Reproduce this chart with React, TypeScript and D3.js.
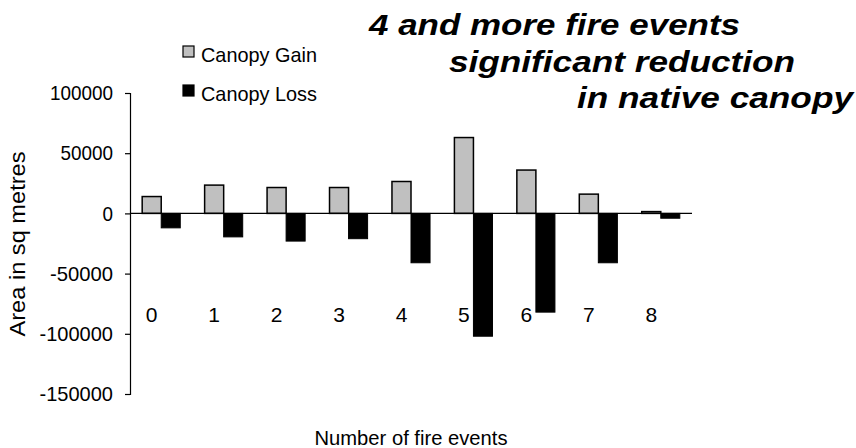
import React, { useEffect, useRef } from 'react';
import * as d3 from 'd3';

// data
const categories = ['0', '1', '2', '3', '4', '5', '6', '7', '8'];
const canopyGain = [14000, 23500, 21500, 21500, 26500, 63000, 36000, 16000, 1500];
const canopyLoss = [-12000, -19500, -23000, -21000, -41000, -102000, -82000, -41000, -4000];
const yTicks = [100000, 50000, 0, -50000, -100000, -150000];
const seriesNames = ['Canopy Gain', 'Canopy Loss'];
const titleLines = ['4 and more fire events', 'significant reduction', 'in native canopy'];

const W = 856;
const H = 448;
const FONT = "'Liberation Sans', Arial, Helvetica, sans-serif";

const App: React.FC = () => {
  const svgRef = useRef<SVGSVGElement>(null);

  useEffect(() => {
    const svg = d3.select(svgRef.current);
    svg.selectAll('*').remove(); // limpa

    const left = 130, right = 692, top = 93, bottom = 394;

    const y = d3.scaleLinear().domain([-150000, 100000]).range([bottom, top]);
    const x0 = d3.scaleBand().domain(categories).range([left, right]).padding(0);
    const x1 = d3.scaleBand()
      .domain(['gain', 'loss'])
      .range([0, x0.bandwidth()])
      .paddingInner(0)
      .paddingOuter(0.64);

    // y axis
    const yAxis = d3.axisLeft(y).tickValues(yTicks).tickSize(5).tickPadding(12).tickFormat(d => String(d));
    const ga = svg.append('g').attr('transform', `translate(${left},0)`).call(yAxis);
    ga.attr('font-family', null).attr('font-size', null);
    ga.select('.domain').attr('stroke', '#000').attr('stroke-width', 1.2);
    ga.selectAll('.tick line').attr('stroke', '#000').attr('stroke-width', 1.2);
    ga.selectAll('.tick text')
      .attr('fill', '#000')
      .style('font-family', FONT)
      .style('font-size', '21px')
      .attr('textLength', 63)
      .attr('lengthAdjust', 'spacingAndGlyphs');
    // shorter labels need their own width
    ga.selectAll<SVGTextElement, number>('.tick text')
      .attr('textLength', d => String(d).length * 10.5);

    const rows = categories.map((c, i) => ({ cat: c, gain: canopyGain[i], loss: canopyLoss[i] }));

    // bars
    const g = svg.append('g');
    g.selectAll('rect.gain')
      .data(rows)
      .join('rect')
      .attr('class', 'gain')
      .attr('x', d => x0(d.cat)! + x1('gain')!)
      .attr('y', d => y(Math.max(0, d.gain)))
      .attr('width', x1.bandwidth())
      .attr('height', d => Math.abs(y(d.gain) - y(0)))
      .attr('fill', '#c0c0c0')
      .attr('stroke', '#000')
      .attr('stroke-width', 1.5);

    g.selectAll('rect.loss')
      .data(rows)
      .join('rect')
      .attr('class', 'loss')
      .attr('x', d => x0(d.cat)! + x1('loss')!)
      .attr('y', d => y(Math.max(0, d.loss)))
      .attr('width', x1.bandwidth())
      .attr('height', d => Math.abs(y(d.loss) - y(0)))
      .attr('fill', '#000')
      .attr('stroke', '#000')
      .attr('stroke-width', 1);

    // zero line
    svg.append('line')
      .attr('x1', left).attr('x2', right)
      .attr('y1', y(0)).attr('y2', y(0))
      .attr('stroke', '#000').attr('stroke-width', 1.2);

    // category labels under the gain bar
    svg.selectAll('text.cat')
      .data(rows)
      .join('text')
      .attr('class', 'cat')
      .attr('x', d => x0(d.cat)! + x1('gain')! + x1.bandwidth() / 2)
      .attr('y', 322)
      .attr('text-anchor', 'middle')
      .style('font-family', FONT)
      .style('font-size', '21px')
      .text(d => d.cat);

    // legend
    const legend = svg.append('g');
    seriesNames.forEach((name, i) => {
      const ly = 46 + i * 39;
      legend.append('rect')
        .attr('x', 183).attr('y', ly)
        .attr('width', 11).attr('height', 11)
        .attr('fill', i === 0 ? '#c0c0c0' : '#000')
        .attr('stroke', '#000').attr('stroke-width', 1.2);
      legend.append('text')
        .attr('x', 201).attr('y', ly + 16)
        .attr('textLength', 116)
        .attr('lengthAdjust', 'spacingAndGlyphs')
        .style('font-family', FONT)
        .style('font-size', '21px')
        .text(name);
    });

    // title
    const titleX = [369, 449, 577];
    const titleW = [371, 346, 276];
    titleLines.forEach((t, i) => {
      svg.append('text')
        .attr('x', titleX[i])
        .attr('y', 35 + i * 36.5)
        .attr('textLength', titleW[i])
        .attr('lengthAdjust', 'spacingAndGlyphs')
        .style('font-family', FONT)
        .style('font-size', '30px')
        .style('font-weight', 'bold')
        .style('font-style', 'italic')
        .text(t);
    });

    // axis titles
    svg.append('text')
      .attr('x', 411)
      .attr('y', 445)
      .attr('text-anchor', 'middle')
      .attr('textLength', 193)
      .attr('lengthAdjust', 'spacingAndGlyphs')
      .style('font-family', FONT)
      .style('font-size', '21px')
      .text('Number of fire events');

    svg.append('text')
      .attr('transform', 'rotate(-90)')
      .attr('x', -244)
      .attr('y', 25)
      .attr('text-anchor', 'middle')
      .attr('textLength', 185)
      .attr('lengthAdjust', 'spacingAndGlyphs')
      .style('font-family', FONT)
      .style('font-size', '22px')
      .text('Area in sq metres');
  }, []);

  return (
    <div style={{ position: 'absolute', left: 0, top: 0, width: W, height: H, background: '#fff' }}>
      <svg ref={svgRef} width={W} height={H} />
    </div>
  );
};

export default App;
